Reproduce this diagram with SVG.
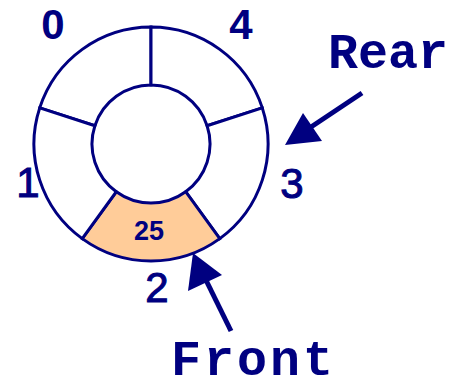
<svg xmlns="http://www.w3.org/2000/svg" width="461" height="390" viewBox="0 0 461 390">
<style>
.seg{fill:#ffffff;stroke:#000080;stroke-width:3}
.full{fill:#ffcc99}
.idx{font-family:"Liberation Sans",Arial,sans-serif;font-size:42px;fill:#000080;text-anchor:middle}
.m{stroke:#000080;stroke-width:1}
.b{font-weight:bold}
.lbl{font-family:"Liberation Mono",monospace;font-weight:bold;font-size:50px;fill:#000080}
.val{font-family:"Liberation Sans",Arial,sans-serif;font-weight:bold;font-size:27px;fill:#000080;text-anchor:middle}
.shaft{stroke:#000080;stroke-width:5;fill:none}
.head{fill:#000080}
</style>
<rect width="461" height="390" fill="#ffffff"/>
<g id="slot0">
<path class="seg" d="M39.72 107.85 A117 117 0 0 1 151 27 L151 85 A59 59 0 0 0 94.89 125.77 Z"/>
<text class="idx b" x="53" y="39">0</text>
</g>
<g id="slot4">
<path class="seg" d="M151 27 A117 117 0 0 1 262.28 107.85 L207.11 125.77 A59 59 0 0 0 151 85 Z"/>
<text class="idx b" x="241" y="39">4</text>
</g>
<g id="slot3">
<path class="seg" d="M262.28 107.85 A117 117 0 0 1 219.77 238.66 L185.68 191.73 A59 59 0 0 0 207.11 125.77 Z"/>
<text class="idx m" x="292" y="198">3</text>
</g>
<g id="slot2">
<path class="seg full" d="M219.77 238.66 A117 117 0 0 1 82.23 238.66 L116.32 191.73 A59 59 0 0 0 185.68 191.73 Z"/>
<text class="val" x="149" y="240">25</text>
<text class="idx m" x="157" y="302">2</text>
</g>
<g id="slot1">
<path class="seg" d="M82.23 238.66 A117 117 0 0 1 39.72 107.85 L94.89 125.77 A59 59 0 0 0 116.32 191.73 Z"/>
<text class="idx m" x="28" y="197">1</text>
</g>
<g id="rear">
<text class="lbl" x="328" y="68">Rear</text>
</g>
<g id="front">
<text class="lbl" x="171" y="375" font-size="48" letter-spacing="3">Front</text>
</g>
<g id="connectors">
<line class="shaft" x1="362" y1="93" x2="305" y2="131"/>
<polygon class="head" points="285,145 303,113 322,141"/>
<line class="shaft" x1="231" y1="331" x2="202" y2="272"/>
<polygon class="head" points="193,253 188,291 222,275"/>
</g>
</svg>
